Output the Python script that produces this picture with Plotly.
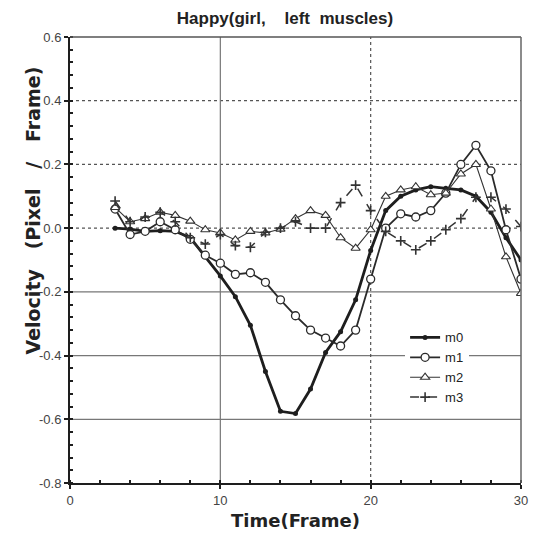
import plotly.graph_objects as go

frames = list(range(3, 31))
m0 = [0.0, -0.003, -0.01, -0.008, -0.01, -0.03, -0.09, -0.15, -0.215, -0.305,
      -0.45, -0.575, -0.582, -0.505, -0.39, -0.325, -0.225, -0.07, 0.055, 0.10,
      0.12, 0.13, 0.125, 0.12, 0.10, 0.05, -0.03, -0.10]
m1 = [0.06, -0.02, -0.01, 0.02, -0.005, -0.035, -0.085, -0.11, -0.145, -0.14,
      -0.17, -0.225, -0.275, -0.32, -0.345, -0.37, -0.32, -0.16, 0.0, 0.045,
      0.035, 0.055, 0.11, 0.20, 0.26, 0.18, -0.005, -0.16]
m2 = [0.065, 0.02, 0.03, 0.05, 0.04, 0.022, -0.005, -0.015, -0.037, -0.01,
      -0.015, -0.003, 0.03, 0.055, 0.04, -0.03, -0.063, -0.005, 0.10, 0.12,
      0.13, 0.105, 0.11, 0.17, 0.20, 0.06, -0.09, -0.205]
m3 = [0.085, 0.02, 0.035, 0.05, 0.02, -0.03, -0.05, -0.02, -0.055, -0.06,
      -0.013, 0.0, 0.02, 0.0, 0.0, 0.08, 0.135, 0.055, -0.01, -0.04,
      -0.068, -0.04, -0.005, 0.03, 0.097, 0.097, 0.06, 0.005]

y_ticks = [0.6, 0.4, 0.2, 0.0, -0.2, -0.4, -0.6, -0.8]
x_ticks = [0, 10, 20, 30]
h_dotted = [0.4, 0.2, 0.0]
h_solid = [-0.2, -0.4, -0.6]
v_solid = [10]
v_dotted = [20]

FONT = "Liberation Sans, Arial, sans-serif"
BOLD_FONT = "DejaVu Sans, sans-serif"
INK = "#1e1e1e"
SP = "&nbsp;"

fig = go.Figure()

shapes = []
for v in h_dotted:
    shapes.append(dict(type="line", xref="x", yref="y", x0=0, x1=30, y0=v, y1=v,
                       line=dict(color="#555", width=1.2, dash="dot"), layer="below"))
for v in h_solid:
    shapes.append(dict(type="line", xref="x", yref="y", x0=0, x1=30, y0=v, y1=v,
                       line=dict(color="#777", width=1.2), layer="below"))
for v in v_solid:
    shapes.append(dict(type="line", xref="x", yref="y", x0=v, x1=v, y0=-0.8, y1=0.6,
                       line=dict(color="#777", width=1.2), layer="below"))
for v in v_dotted:
    shapes.append(dict(type="line", xref="x", yref="y", x0=v, x1=v, y0=-0.8, y1=0.6,
                       line=dict(color="#555", width=1.2, dash="dot"), layer="below"))
shapes.append(dict(type="line", xref="paper", yref="paper", x0=0, x1=1, y0=1, y1=1,
                   line=dict(color="#555", width=1.5)))
shapes.append(dict(type="line", xref="paper", yref="paper", x0=1, x1=1, y0=0, y1=1,
                   line=dict(color="#666", width=1.5)))

fig.add_trace(go.Scatter(x=frames, y=m0, name="m0", mode="lines+markers",
                         line=dict(color=INK, width=2.8),
                         marker=dict(symbol="circle", size=5, color=INK)))
fig.add_trace(go.Scatter(x=frames, y=m1, name="m1", mode="lines+markers",
                         line=dict(color="#2a2a2a", width=1.8),
                         marker=dict(symbol="circle", size=8, color="white",
                                     line=dict(color="#2a2a2a", width=1.3))))
fig.add_trace(go.Scatter(x=frames, y=m2, name="m2", mode="lines+markers",
                         line=dict(color="#333", width=1.1),
                         marker=dict(symbol="triangle-up", size=8, color="white",
                                     line=dict(color="#333", width=1.1))))
fig.add_trace(go.Scatter(x=frames, y=m3, name="m3", mode="lines+markers",
                         line=dict(color="#333", width=1.5, dash="dash"),
                         marker=dict(symbol="cross-thin", size=7,
                                     line=dict(color="#333", width=1.6))))

fig.update_layout(
    width=532, height=528,
    margin=dict(l=62, r=15, t=29, b=53),
    paper_bgcolor="white", plot_bgcolor="white",
    font=dict(family=FONT, color="#333"),
    title=dict(text="Happy(girl," + SP * 4 + "left" + SP * 2 + "muscles)",
               x=(285 - 8) / 532, xref="container", xanchor="center",
               y=1 - (18 - 8) / 528, yref="container", yanchor="middle",
               font=dict(family=FONT, size=17, color="#222", weight="bold")),
    shapes=shapes,
    showlegend=True,
    legend=dict(x=0.743, y=0.36, xanchor="left", yanchor="top",
                bgcolor="white", borderwidth=0,
                font=dict(family=FONT, size=13, color="#222"),
                tracegroupgap=0, itemwidth=30),
    xaxis=dict(range=[0, 30], tickvals=x_ticks, ticktext=[str(v) for v in x_ticks],
               showgrid=False, zeroline=False, showline=True, linecolor=INK, linewidth=2,
               ticks="outside", ticklen=4, tickcolor=INK, tickwidth=1.5,
               minor=dict(dtick=2, ticks="inside", ticklen=3, tickcolor=INK, showgrid=False),
               tickfont=dict(family=FONT, size=13, color="#444")),
    yaxis=dict(range=[-0.8, 0.6], tickvals=y_ticks, ticktext=[f"{v:.1f}" for v in y_ticks],
               showgrid=False, zeroline=False, showline=True, linecolor=INK, linewidth=2,
               ticks="outside", ticklen=4, tickcolor=INK, tickwidth=1.5,
               minor=dict(dtick=0.04, tick0=0, ticks="inside", ticklen=3, tickcolor=INK, showgrid=False),
               tickfont=dict(family=FONT, size=13, color="#444")),
    annotations=[
        dict(text="<b>Time(Frame)</b>", xref="paper", yref="paper", x=0.5, y=-0.085,
             xanchor="center", yanchor="middle", showarrow=False,
             font=dict(family=BOLD_FONT, size=18, color="#222")),
        dict(text="<b>Velocity" + SP * 3 + "(Pixel" + SP * 3 + "/" + SP * 3 + "Frame)</b>",
             xref="paper", yref="paper",
             x=-0.081, y=0.612, xanchor="center", yanchor="middle", textangle=-90,
             showarrow=False,
             font=dict(family=BOLD_FONT, size=19, color="#222")),
    ],
)

fig.write_html("out.html")
